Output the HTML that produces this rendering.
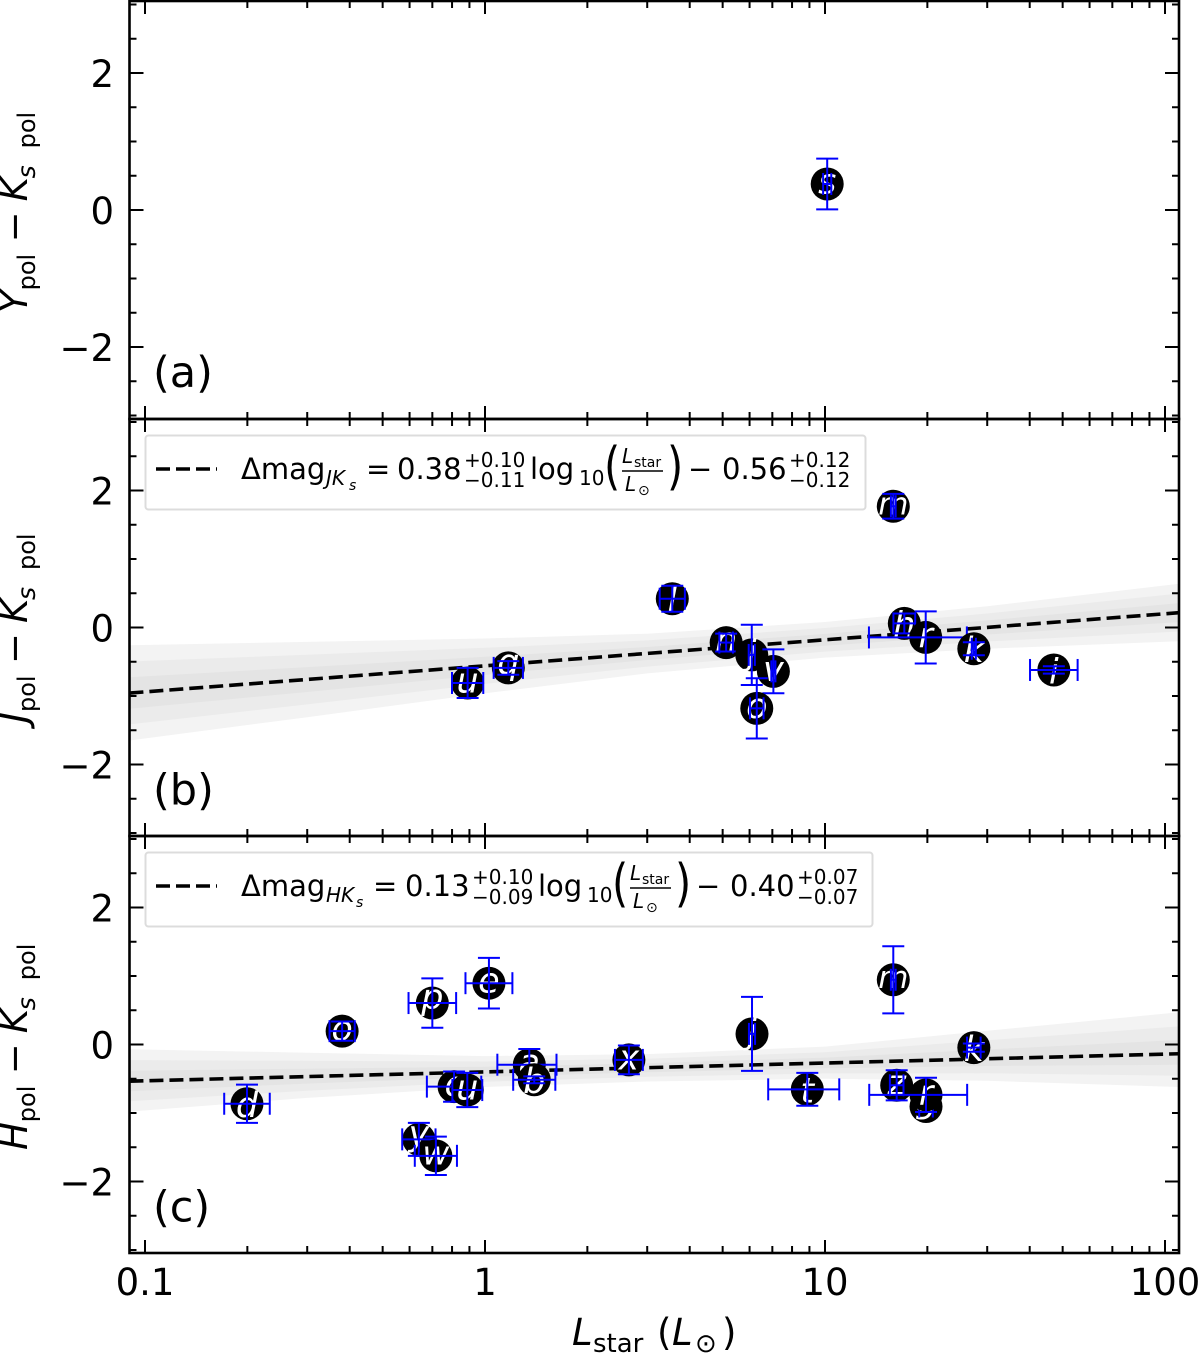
<!DOCTYPE html>
<html lang="en">
<head>
<meta charset="utf-8">
<title>Polarized colour versus stellar luminosity</title>
<style>
html,body{margin:0;padding:0;background:#fff;width:1200px;height:1354px;overflow:hidden}
svg{display:block}
text{font-family:"DejaVu Sans","Liberation Sans",sans-serif;fill:#000}
.i{font-style:italic}
</style>
</head>
<body>
<svg id="chart" xmlns="http://www.w3.org/2000/svg" width="1200" height="1354" viewBox="0 0 1200 1354">
  <g id="panels"></g>
  <g id="legend-b">
    <rect x="145.5" y="435.5" width="720" height="74" rx="3" fill="#fff" fill-opacity="0.85" stroke="#dcdcdc" stroke-width="2"/>
    <line x1="156" y1="469" x2="217" y2="469" stroke="#000" stroke-width="3.6" stroke-dasharray="14 6"/>
    <text x="241" y="479" font-size="29">Δmag</text>
    <text x="326" y="485" font-size="20" class="i">JK</text>
    <text x="349" y="490" font-size="14" class="i">s</text>
    <text x="366" y="479" font-size="29">=</text>
    <text x="397" y="479" font-size="29">0.38</text>
    <text x="464" y="467" font-size="20">+0.10</text>
    <text x="464" y="487" font-size="20">−0.11</text>
    <text x="530" y="479" font-size="29">log</text>
    <text x="579" y="485" font-size="20">10</text>
    <text x="604" y="484" font-size="52" transform="translate(604 484) scale(0.8 1) translate(-604 -484)">(</text>
    <text x="622" y="463" font-size="20" class="i">L</text>
    <text x="634" y="467" font-size="14">star</text>
    <line x1="622" y1="471" x2="663" y2="471" stroke="#000" stroke-width="1.5"/>
    <text x="625" y="491" font-size="20" class="i">L</text>
    <text x="638" y="495" font-size="14">⊙</text>
    <text x="667" y="484" font-size="52" transform="translate(667 484) scale(0.8 1) translate(-667 -484)">)</text>
    <text x="688" y="479" font-size="29">−</text>
    <text x="722" y="479" font-size="29">0.56</text>
    <text x="789" y="467" font-size="20">+0.12</text>
    <text x="789" y="487" font-size="20">−0.12</text>
  </g>
  <g id="legend-c">
    <rect x="145.5" y="852.5" width="727" height="74" rx="3" fill="#fff" fill-opacity="0.85" stroke="#dcdcdc" stroke-width="2"/>
    <line x1="156" y1="886" x2="217" y2="886" stroke="#000" stroke-width="3.6" stroke-dasharray="14 6"/>
    <text x="241" y="896" font-size="29">Δmag</text>
    <text x="326" y="902" font-size="20" class="i">HK</text>
    <text x="356" y="907" font-size="14" class="i">s</text>
    <text x="373" y="896" font-size="29">=</text>
    <text x="405" y="896" font-size="29">0.13</text>
    <text x="472" y="884" font-size="20">+0.10</text>
    <text x="472" y="904" font-size="20">−0.09</text>
    <text x="538" y="896" font-size="29">log</text>
    <text x="587" y="902" font-size="20">10</text>
    <text x="612" y="901" font-size="52" transform="translate(612 901) scale(0.8 1) translate(-612 -901)">(</text>
    <text x="630" y="880" font-size="20" class="i">L</text>
    <text x="642" y="884" font-size="14">star</text>
    <line x1="630" y1="888" x2="671" y2="888" stroke="#000" stroke-width="1.5"/>
    <text x="633" y="908" font-size="20" class="i">L</text>
    <text x="646" y="912" font-size="14">⊙</text>
    <text x="675" y="901" font-size="52" transform="translate(675 901) scale(0.8 1) translate(-675 -901)">)</text>
    <text x="696" y="896" font-size="29">−</text>
    <text x="730" y="896" font-size="29">0.40</text>
    <text x="797" y="884" font-size="20">+0.07</text>
    <text x="797" y="904" font-size="20">−0.07</text>
  </g>
  <text y="1345" font-size="37"><tspan x="572" class="i">L</tspan><tspan x="593" y="1352" font-size="26">star</tspan><tspan x="657" y="1345">(</tspan><tspan x="672" class="i">L</tspan><tspan x="695" y="1352" font-size="26">⊙</tspan><tspan x="722" y="1345">)</tspan></text>
  <text transform="translate(27 313) rotate(-90)" font-size="37"><tspan x="0" y="0" class="i">Y</tspan><tspan x="22.6" y="8" font-size="24">pol</tspan><tspan x="70.6" y="0">−</tspan><tspan x="111.6" y="0" class="i">K</tspan><tspan x="134.6" y="8" font-size="25" class="i">s</tspan><tspan x="164.6" y="8" font-size="24">pol</tspan></text>
  <text transform="translate(27 723) rotate(-90)" font-size="37"><tspan x="0" y="0" class="i">J</tspan><tspan x="11" y="8" font-size="24">pol</tspan><tspan x="59" y="0">−</tspan><tspan x="100" y="0" class="i">K</tspan><tspan x="123" y="8" font-size="25" class="i">s</tspan><tspan x="153" y="8" font-size="24">pol</tspan></text>
  <text transform="translate(27 1150) rotate(-90)" font-size="37"><tspan x="0" y="0" class="i">H</tspan><tspan x="27.8" y="8" font-size="24">pol</tspan><tspan x="75.8" y="0">−</tspan><tspan x="116.8" y="0" class="i">K</tspan><tspan x="139.8" y="8" font-size="25" class="i">s</tspan><tspan x="169.8" y="8" font-size="24">pol</tspan></text>
</svg>
<script>
// Panel (a) data
const labelsA = ['s'];
const lstarA  = [10.15];
const colorA  = [0.38];
const xerrLowA  = [0.012];
const xerrHighA = [0.012];
const yerrA   = [0.37];

// Panel (b) data
const labelsB = ['u','q','l','n','j','v','o','m','h','r','k','i'];
const lstarB  = [0.889,1.171,3.555,5.12,6.09,7.05,6.30,15.88,17.11,19.78,27.4,47.1];
const colorB  = [-0.81,-0.59,0.42,-0.22,-0.40,-0.64,-1.18,1.77,0.06,-0.145,-0.31,-0.62];
const xerrLowB  = [0.046,0.043,0.037,0.02,0.009,0.006,0.02,0.007,0.032,0.167,0.006,0.07];
const xerrHighB = [0.046,0.043,0.037,0.02,0.009,0.006,0.02,0.007,0.032,0.121,0.006,0.07];
const yerrB   = [0.22,0.10,0.19,0.13,0.44,0.32,0.44,0.18,0.145,0.38,0.095,0.054];

// Panel (c) data
const labelsC = ['d','o','p','e','c','u','y','w','a','b','x','j','t','m','z','g','r','k'];
const lstarC  = [0.1995,0.380,0.70,1.027,0.811,0.887,0.639,0.717,1.35,1.396,2.65,6.10,8.87,15.88,16.25,19.82,19.82,27.4];
const colorC  = [-0.865,0.195,0.605,0.895,-0.615,-0.665,-1.385,-1.625,-0.295,-0.515,-0.225,0.155,-0.655,0.945,-0.595,-0.905,-0.735,-0.045];
const xerrLowC  = [0.067,0.037,0.07,0.069,0.08,0.044,0.049,0.062,0.094,0.062,0.041,0.009,0.115,0.007,0.02,0.02,0.167,0.02];
const xerrHighC = [0.067,0.037,0.07,0.069,0.08,0.044,0.049,0.062,0.08,0.062,0.041,0.009,0.094,0.007,0.02,0.02,0.121,0.02];
const yerrC   = [0.28,0.14,0.36,0.37,0.22,0.25,0.24,0.28,0.23,0.05,0.21,0.54,0.24,0.49,0.22,0.08,0.25,0.06];

// Fit lines and confidence bands
const fitEnds    = [0.09,110];
const fitB       = [-0.957,0.216];
const fitC       = [-0.536,-0.135];
const bandLstar  = [0.09,0.3,1,3,10,30,110];
const bOuterHi   = [-0.26,-0.21,-0.16,-0.09,0.08,0.31,0.64];
const bOuterLo   = [-1.65,-1.31,-0.96,-0.67,-0.44,-0.31,-0.20];
const bMidHi     = [-0.497,-0.397,-0.296,-0.188,-0.008,0.205,0.496];
const bMidLo     = [-1.414,-1.123,-0.824,-0.571,-0.352,-0.204,-0.059];
const bInnerHi   = [-0.727,-0.578,-0.428,-0.284,-0.094,0.103,0.356];
const bInnerLo   = [-1.186,-0.941,-0.692,-0.475,-0.266,-0.102,0.079];
const cOuterHi   = [-0.07,-0.12,-0.17,-0.14,-0.03,0.20,0.47];
const cOuterLo   = [-0.98,-0.78,-0.62,-0.54,-0.50,-0.53,-0.62];
const cMidHi     = [-0.228,-0.238,-0.248,-0.207,-0.112,0.061,0.264];
const cMidLo     = [-0.829,-0.674,-0.545,-0.471,-0.422,-0.421,-0.455];
const cInnerHi   = [-0.382,-0.353,-0.324,-0.273,-0.191,-0.073,0.065];
const cInnerLo   = [-0.683,-0.571,-0.473,-0.405,-0.346,-0.314,-0.295];

// Ticks
const xMajor = [0.1,1,10,100];
const xMajorLabels = ['0.1','1','10','100'];
const xMinorFactors = [2,3,4,5,6,7,8,9];
const yMajor = [-2,0,2];
const yMajorLabels = ['−2','0','2'];
const yMinor = [-3,-2.5,-1.5,-1,-0.5,0.5,1,1.5,2.5,3];
const panelTags = ['(a)','(b)','(c)'];

const NS = 'http://www.w3.org/2000/svg';
const root = document.getElementById('panels');
const AX_L = 129.5, AX_R = 1179;
const Y_UNIT = 68.5;
function xPos(l){ return 485 + 340*Math.log10(l); }
function yPos(v, mid){ return mid - Y_UNIT*v; }
function mk(tag, attrs, parent){
  const e = document.createElementNS(NS, tag);
  for (const k in attrs) e.setAttribute(k, attrs[k]);
  (parent||root).appendChild(e);
  return e;
}
function letterDy(c){
  if ('bdfhklti'.includes(c)) return 0.38;
  if ('gpqy'.includes(c)) return 0.17;
  if (c === 'j') return 0.275;
  return 0.27;
}
function bandPath(lo, hi, mid){
  let d = '';
  bandLstar.forEach((l,i)=>{ d += (i?'L':'M') + xPos(l).toFixed(1) + ' ' + yPos(hi[i],mid).toFixed(1); });
  for (let i=bandLstar.length-1;i>=0;i--){ d += 'L' + xPos(bandLstar[i]).toFixed(1) + ' ' + yPos(lo[i],mid).toFixed(1); }
  return d + 'Z';
}
function seg(x1,y1,x2,y2,g){
  return mk('line',{x1:x1,y1:y1,x2:x2,y2:y2,stroke:'#0000ff','stroke-width':2},g);
}

function drawPanel(idx, top, bottom, labels, lstar, color, xerrLow, xerrHigh, yerr, band, fit){
  const mid = (top+bottom)/2;
  const panel = mk('g',{});
  
  
  const clipId = 'clip' + idx;
  const defs = mk('defs',{},panel);
  const cp = mk('clipPath',{id:clipId},defs);
  mk('rect',{x:AX_L,y:top,width:AX_R-AX_L,height:bottom-top},cp);

  const plot = mk('g',{'clip-path':'url(#'+clipId+')'},panel);
  if (band){
    const outer = mk('path',{d:bandPath(band[1],band[0],mid),fill:'#f3f3f3'},plot);
    
    
    const middle = mk('path',{d:bandPath(band[3],band[2],mid),fill:'#ebebeb'},plot);
    
    
    const inner = mk('path',{d:bandPath(band[5],band[4],mid),fill:'#e4e4e4'},plot);
    
    
  }
  if (fit){
    const fl = mk('line',{x1:xPos(fitEnds[0]),y1:yPos(fit[0],mid),x2:xPos(fitEnds[1]),y2:yPos(fit[1],mid),stroke:'#000','stroke-width':3.6,'stroke-dasharray':'14 6'},plot);
    
    
  }
  labels.forEach((c,i)=>{
    const px = xPos(lstar[i]), py = yPos(color[i],mid);
    const pt = mk('g',{},plot);
    
    
    mk('circle',{cx:px,cy:py,r:16.5,fill:'#000'},pt);
    const fs = c==='m' ? 31 : (c==='w' ? 33 : 35);
    const t = mk('text',{x:px,y:py+fs*letterDy(c),'font-size':fs,'text-anchor':'middle','class':'i',style:'fill:#fff'},pt);
    t.textContent = c;
    const xa = xPos(lstar[i]*Math.pow(10,-xerrLow[i])), xb = xPos(lstar[i]*Math.pow(10,xerrHigh[i]));
    const ya = yPos(color[i]+yerr[i],mid), yb = yPos(color[i]-yerr[i],mid);
    seg(xa,py,xb,py,pt); seg(px,ya,px,yb,pt);
    seg(px-11,ya,px+11,ya,pt); seg(px-11,yb,px+11,yb,pt);
    seg(xa,py-11,xa,py+11,pt); seg(xb,py-11,xb,py+11,pt);
  });

  const axes = mk('g',{},panel);
  
  
  function tick(x1,y1,x2,y2){ mk('line',{x1:x1,y1:y1,x2:x2,y2:y2,stroke:'#000','stroke-width':2},axes); }
  xMajor.forEach(v=>{
    const x = xPos(v);
    tick(x,bottom,x,bottom-13); tick(x,top,x,top+13);
    if (v<100) xMinorFactors.forEach(f=>{
      const xm = xPos(v*f);
      if (xm<AX_R){ tick(xm,bottom,xm,bottom-7); tick(xm,top,xm,top+7); }
    });
  });
  yMajor.forEach((v,i)=>{
    const y = yPos(v,mid);
    tick(AX_L,y,AX_L+14,y); tick(AX_R,y,AX_R-14,y);
    const tl = mk('text',{x:114,y:y+14,'font-size':37,'text-anchor':'end'},axes);
    
    
    tl.textContent = yMajorLabels[i];
  });
  yMinor.forEach(v=>{
    const y = yPos(v,mid);
    tick(AX_L,y,AX_L+7,y); tick(AX_R,y,AX_R-7,y);
  });
  const frame = mk('rect',{x:AX_L,y:top,width:AX_R-AX_L,height:bottom-top,fill:'none',stroke:'#000','stroke-width':2.6},axes);
  
  
  const tag = mk('text',{x:153,y:mid+177,'font-size':43},panel);
  
  
  tag.textContent = panelTags[idx];
}

drawPanel(0,1,419,labelsA,lstarA,colorA,xerrLowA,xerrHighA,yerrA,null,null);
drawPanel(1,419,836,labelsB,lstarB,colorB,xerrLowB,xerrHighB,yerrB,[bOuterHi,bOuterLo,bMidHi,bMidLo,bInnerHi,bInnerLo],fitB);
drawPanel(2,836,1253,labelsC,lstarC,colorC,xerrLowC,xerrHighC,yerrC,[cOuterHi,cOuterLo,cMidHi,cMidLo,cInnerHi,cInnerLo],fitC);

xMajor.forEach((v,i)=>{
  const t = mk('text',{x:xPos(v),y:1295,'font-size':37,'text-anchor':'middle'});
  
  
  t.textContent = xMajorLabels[i];
});
</script>
</body>
</html>
